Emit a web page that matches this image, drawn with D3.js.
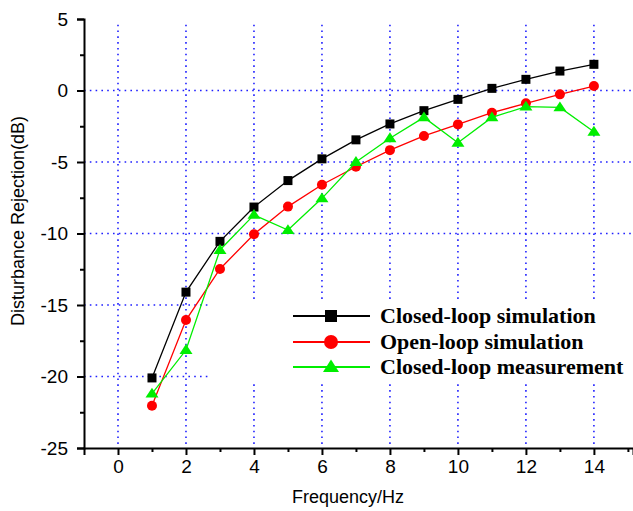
<!DOCTYPE html>
<html>
<head>
<meta charset="utf-8">
<script src="https://cdn.jsdelivr.net/npm/d3@7"></script>
<style>
  body { margin: 0; background: #fff; }
  .tick text { font-family: "Liberation Sans", Arial, sans-serif; font-size: 19px; fill: #000; }
  .axis path, .axis line { stroke: #000; stroke-width: 2; }
</style>
</head>
<body>
<svg id="chart" width="633" height="511"></svg>
<script>
var freq = [1, 2, 3, 4, 5, 6, 7, 8, 9, 10, 11, 12, 13, 14];
var closedSim = [-20.1, -14.1, -10.55, -8.15, -6.3, -4.78, -3.45, -2.34, -1.41, -0.62, 0.15, 0.78, 1.36, 1.83];
var openSim = [-22.05, -16.05, -12.48, -10.05, -8.12, -6.59, -5.33, -4.17, -3.18, -2.37, -1.55, -0.9, -0.27, 0.31];
var closedMeas = [-21.2, -18.15, -11.15, -8.7, -9.76, -7.54, -5.0, -3.34, -1.88, -3.65, -1.88, -1.13, -1.18, -2.88];
var xTicks = [0, 2, 4, 6, 8, 10, 12, 14];
var xMinor = [1, 3, 5, 7, 9, 11, 13, 15];
var yTicks = [5, 0, -5, -10, -15, -20, -25];
var yMinor = [2.5, -2.5, -7.5, -12.5, -17.5, -22.5];
var xGrid = [0, 2, 4, 6, 8, 10, 12, 14];
var yGrid = [0, -5, -10, -15, -20];

var series = [
  { name: "Closed-loop simulation", values: closedSim, color: "#000000", shape: "square" },
  { name: "Open-loop simulation", values: openSim, color: "#ff0000", shape: "circle" },
  { name: "Closed-loop measurement", values: closedMeas, color: "#00ee00", shape: "triangle" }
];

var svg = d3.select("#chart");
var x = d3.scaleLinear().domain([-1, 15.15]).range([84, 633]);
var y = d3.scaleLinear().domain([-25, 5]).range([448, 19]);

// grid
var grid = svg.append("g")
  .attr("stroke", "#2020ff")
  .attr("stroke-width", 1.6)
  .attr("stroke-dasharray", "1.6,4.2");
grid.selectAll(".vg").data(xGrid).enter().append("line")
  .attr("x1", function (d) { return x(d); }).attr("x2", function (d) { return x(d); })
  .attr("y1", y(4.6)).attr("y2", y(-25));
grid.selectAll(".hg").data(yGrid).enter().append("line")
  .attr("x1", x(-1)).attr("x2", 633)
  .attr("y1", function (d) { return y(d); }).attr("y2", function (d) { return y(d); });

// legend background hides the grid behind it
svg.append("rect")
  .attr("x", 210).attr("y", 300).attr("width", 423).attr("height", 83)
  .attr("fill", "#fff");

// axes
svg.append("g").attr("class", "axis")
  .attr("transform", "translate(0," + y(-25) + ")")
  .call(d3.axisBottom(x).tickValues(xTicks).tickSize(7).tickPadding(5).tickFormat(d3.format("d")));
svg.append("g").attr("class", "axis")
  .attr("transform", "translate(0," + y(-25) + ")")
  .call(d3.axisBottom(x).tickValues(xMinor).tickSize(4).tickFormat(""))
  .select(".domain").remove();
svg.append("g").attr("class", "axis")
  .attr("transform", "translate(" + x(-1) + ",0)")
  .call(d3.axisLeft(y).tickValues(yTicks).tickSize(7).tickPadding(9).tickFormat(d3.format("d")));
svg.append("g").attr("class", "axis")
  .attr("transform", "translate(" + x(-1) + ",0)")
  .call(d3.axisLeft(y).tickValues(yMinor).tickSize(4).tickFormat(""))
  .select(".domain").remove();
svg.selectAll(".tick text").text(function () { return this.textContent.replace("−", "-"); });

// axis titles
svg.append("text")
  .attr("x", 348).attr("y", 503)
  .attr("text-anchor", "middle")
  .style("font-family", "'Liberation Sans', Arial, sans-serif")
  .style("font-size", "18px")
  .text("Frequency/Hz");
svg.append("text")
  .attr("transform", "translate(24,221) rotate(-90)")
  .attr("text-anchor", "middle")
  .style("font-family", "'Liberation Sans', Arial, sans-serif")
  .style("font-size", "18px")
  .text("Disturbance Rejection(dB)");

function drawMarker(g, shape, color, cx, cy, s) {
  if (shape === "square") {
    g.append("rect").attr("x", cx - s / 2).attr("y", cy - s / 2)
      .attr("width", s).attr("height", s).attr("fill", color);
  } else if (shape === "circle") {
    g.append("circle").attr("cx", cx).attr("cy", cy).attr("r", s / 2).attr("fill", color);
  } else {
    var h = s * 0.9;
    g.append("path")
      .attr("d", "M" + cx + "," + (cy - h * 0.6) + "L" + (cx + s / 2 + 1) + "," + (cy + h * 0.4) +
        "L" + (cx - s / 2 - 1) + "," + (cy + h * 0.4) + "Z")
      .attr("fill", color);
  }
}

var line = d3.line()
  .x(function (d) { return x(d[0]); })
  .y(function (d) { return y(d[1]); });

series.forEach(function (s) {
  var pts = freq.map(function (f, i) { return [f, s.values[i]]; });
  var g = svg.append("g");
  g.append("path").datum(pts)
    .attr("d", line)
    .attr("fill", "none")
    .attr("stroke", s.color)
    .attr("stroke-width", 1.3);
  pts.forEach(function (p) {
    drawMarker(g, s.shape, s.color, x(p[0]), y(p[1]), s.shape === "triangle" ? 11 : (s.shape === "circle" ? 10 : 9));
  });
});

// legend
var legendRows = [316, 342, 367];
series.forEach(function (s, i) {
  var g = svg.append("g");
  var ly = legendRows[i];
  g.append("line").attr("x1", 293).attr("x2", 370).attr("y1", ly).attr("y2", ly)
    .attr("stroke", s.color).attr("stroke-width", 2.2);
  drawMarker(g, s.shape, s.color, 331, ly, s.shape === "triangle" ? 14 : (s.shape === "circle" ? 14 : 12));
  g.append("text")
    .attr("x", 380).attr("y", ly + 7)
    .style("font-family", "'Liberation Serif', 'Times New Roman', serif")
    .style("font-weight", "bold")
    .style("font-size", "22px")
    .text(s.name);
});
</script>
</body>
</html>
